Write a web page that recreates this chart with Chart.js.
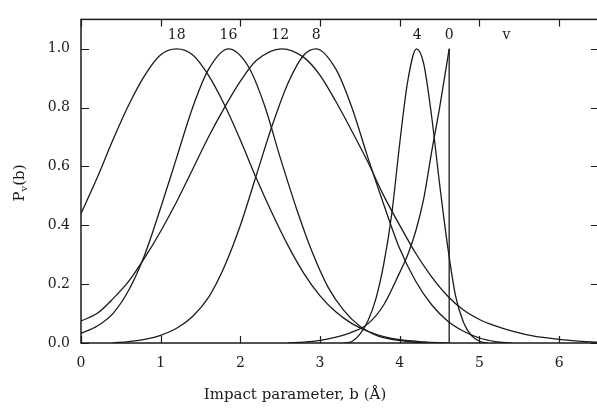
<!DOCTYPE html>
<html>
<head>
<meta charset="utf-8">
<script src="https://cdn.jsdelivr.net/npm/chart.js@4.4.1/dist/chart.umd.min.js"></script>
<style>
    html, body { margin: 0; padding: 0; background: #fff; overflow: hidden; }
    #wrap { width: 600px; height: 409px; position: relative; }
</style>
</head>
<body>
<div id="wrap"><canvas id="chart"></canvas></div>
<script>
// 曲线数据 (b, P_v(b))
const b18 = [0, 0.2, 0.4, 0.6, 0.8, 1.0, 1.2, 1.4, 1.6, 1.8, 2.0, 2.2, 2.4, 2.6, 2.8, 3.0, 3.2, 3.4, 3.6, 3.8, 4.0, 4.3, 4.6];
const p18 = [0.44, 0.56, 0.69, 0.81, 0.91, 0.98, 1.0, 0.98, 0.91, 0.81, 0.69, 0.56, 0.44, 0.33, 0.235, 0.16, 0.105, 0.066, 0.04, 0.022, 0.011, 0.004, 0];

const b16 = [0, 0.2, 0.4, 0.6, 0.8, 1.0, 1.2, 1.4, 1.6, 1.85, 2.1, 2.3, 2.5, 2.7, 2.9, 3.1, 3.3, 3.5, 3.7, 3.9, 4.1, 4.4];
const p16 = [0.033, 0.057, 0.1, 0.18, 0.3, 0.46, 0.63, 0.8, 0.93, 1.0, 0.94, 0.81, 0.63, 0.46, 0.31, 0.19, 0.11, 0.057, 0.027, 0.012, 0.005, 0.001];

const b12 = [0, 0.2, 0.4, 0.6, 0.8, 1.0, 1.2, 1.4, 1.6, 1.8, 2.0, 2.2, 2.52, 2.8, 3.0, 3.2, 3.4, 3.6, 3.8, 4.0, 4.2, 4.4, 4.6, 4.8, 5.0, 5.2, 5.4, 5.6, 5.8, 6.0, 6.2, 6.5];
const p12 = [0.075, 0.1, 0.15, 0.21, 0.29, 0.38, 0.48, 0.59, 0.7, 0.8, 0.89, 0.96, 1.0, 0.97, 0.91, 0.82, 0.72, 0.615, 0.5, 0.4, 0.305, 0.225, 0.16, 0.112, 0.08, 0.058, 0.041, 0.028, 0.019, 0.012, 0.007, 0.002];

const b8 = [0.4, 0.6, 0.8, 1.0, 1.2, 1.4, 1.6, 1.8, 2.0, 2.2, 2.4, 2.6, 2.8, 2.95, 3.2, 3.4, 3.6, 3.8, 4.0, 4.2, 4.4, 4.6, 4.8, 5.0, 5.2, 5.4];
const p8 = [0.001, 0.005, 0.012, 0.026, 0.05, 0.09, 0.155, 0.26, 0.4, 0.57, 0.74, 0.885, 0.98, 1.0, 0.93, 0.8, 0.63, 0.47, 0.32, 0.21, 0.13, 0.075, 0.04, 0.017, 0.005, 0];

const b4 = [3.3, 3.4, 3.5, 3.6, 3.7, 3.8, 3.9, 4.0, 4.1, 4.21, 4.3, 4.4, 4.5, 4.6, 4.7, 4.8, 4.9, 5.0, 5.1];
const p4 = [0, 0.005, 0.03, 0.075, 0.15, 0.27, 0.44, 0.68, 0.89, 1.0, 0.95, 0.77, 0.54, 0.33, 0.16, 0.07, 0.025, 0.006, 0];

const b0 = [2.6, 2.8, 3.0, 3.2, 3.4, 3.6, 3.8, 4.0, 4.1, 4.2, 4.3, 4.4, 4.5, 4.62];
const p0 = [0, 0.003, 0.009, 0.02, 0.037, 0.065, 0.13, 0.24, 0.3, 0.38, 0.49, 0.65, 0.8, 1.0];
// v=0 在 b=4.62 处垂直下降
const b0drop = [4.62, 4.62];
const p0drop = [1.0, 0];

// 曲线标注
const curveLabels = ['18', '16', '12', '8', '4', '0', 'v'];
const labelB = [1.2, 1.85, 2.5, 2.95, 4.22, 4.62, 5.34];
const labelP = 1.045;

// 刻度
const xTicks = [0, 1, 2, 3, 4, 5, 6];
const yTicks = [0, 0.2, 0.4, 0.6, 0.8, 1.0];

const INK = '#1a1a1a';
const FONT = '"DejaVu Serif", "Liberation Serif", serif';

function toPoints(xs, ys) {
    return xs.map((x, i) => ({ x: x, y: ys[i] }));
}

function curve(xs, ys, smooth) {
    return {
        data: toPoints(xs, ys),
        borderColor: INK,
        borderWidth: 1.3,
        pointRadius: 0,
        fill: false,
        showLine: true,
        cubicInterpolationMode: smooth ? 'monotone' : 'default',
        tension: 0
    };
}

// 边框、内向刻度、标注和轴标题
const decorPlugin = {
    id: 'decor',
    afterDraw(chart) {
        const ctx = chart.ctx;
        const area = chart.chartArea;
        const xs = chart.scales.x;
        const ys = chart.scales.y;
        ctx.save();
        ctx.strokeStyle = INK;
        ctx.lineWidth = 1.5;
        ctx.strokeRect(area.left, area.top, area.right - area.left, area.bottom - area.top);

        ctx.lineWidth = 1.2;
        ctx.beginPath();
        xTicks.forEach(v => {
            const px = Math.round(xs.getPixelForValue(v)) + 0.5;
            ctx.moveTo(px, area.bottom);
            ctx.lineTo(px, area.bottom - 7);
            ctx.moveTo(px, area.top);
            ctx.lineTo(px, area.top + 7);
        });
        yTicks.forEach(v => {
            const py = Math.round(ys.getPixelForValue(v)) + 0.5;
            ctx.moveTo(area.left, py);
            ctx.lineTo(area.left + 8, py);
            ctx.moveTo(area.right, py);
            ctx.lineTo(area.right - 8, py);
        });
        ctx.stroke();

        // 曲线标号
        ctx.fillStyle = INK;
        ctx.font = '14px ' + FONT;
        ctx.textAlign = 'center';
        ctx.textBaseline = 'middle';
        curveLabels.forEach((t, i) => {
            ctx.fillText(t, xs.getPixelForValue(labelB[i]), ys.getPixelForValue(labelP));
        });

        // x 轴标题
        ctx.font = '15px ' + FONT;
        ctx.fillText('Impact parameter, b (Å)', 295, 395);

        // y 轴标题 P_v(b)
        ctx.translate(20, 183);
        ctx.rotate(-Math.PI / 2);
        ctx.textAlign = 'left';
        ctx.font = '15px ' + FONT;
        const wP = ctx.measureText('P').width;
        ctx.font = '10px ' + FONT;
        const wV = ctx.measureText('v').width;
        ctx.font = '15px ' + FONT;
        const wB = ctx.measureText('(b)').width;
        const start = -(wP + wV + wB) / 2;
        ctx.fillText('P', start, 0);
        ctx.font = '10px ' + FONT;
        ctx.fillText('v', start + wP, 4);
        ctx.font = '15px ' + FONT;
        ctx.fillText('(b)', start + wP + wV, 0);
        ctx.restore();
    }
};

new Chart(document.getElementById('chart'), {
    type: 'scatter',
    data: {
        datasets: [
            curve(b18, p18, true),
            curve(b16, p16, true),
            curve(b12, p12, true),
            curve(b8, p8, true),
            curve(b4, p4, true),
            curve(b0, p0, true),
            curve(b0drop, p0drop, false)
        ]
    },
    options: {
        responsive: true,
        maintainAspectRatio: false,
        animation: false,
        layout: { padding: { top: 13, right: 1, left: 0, bottom: 0 } },
        plugins: {
            legend: { display: false },
            tooltip: { enabled: false }
        },
        scales: {
            x: {
                type: 'linear',
                min: 0,
                max: 6.5,
                grid: { display: false, drawTicks: false },
                border: { display: false },
                afterFit: s => { s.height = 66; },
                afterBuildTicks: s => { s.ticks = xTicks.map(v => ({ value: v })); },
                ticks: {
                    color: INK,
                    padding: 12,
                    font: { family: FONT, size: 14 },
                    callback: v => String(v)
                }
            },
            y: {
                type: 'linear',
                min: 0,
                max: 1.1,
                grid: { display: false, drawTicks: false },
                border: { display: false },
                afterFit: s => { s.width = 81; },
                afterBuildTicks: s => { s.ticks = yTicks.map(v => ({ value: v })); },
                ticks: {
                    color: INK,
                    padding: 11,
                    font: { family: FONT, size: 14 },
                    callback: v => v.toFixed(1)
                }
            }
        }
    },
    plugins: [decorPlugin]
});
</script>
</body>
</html>
